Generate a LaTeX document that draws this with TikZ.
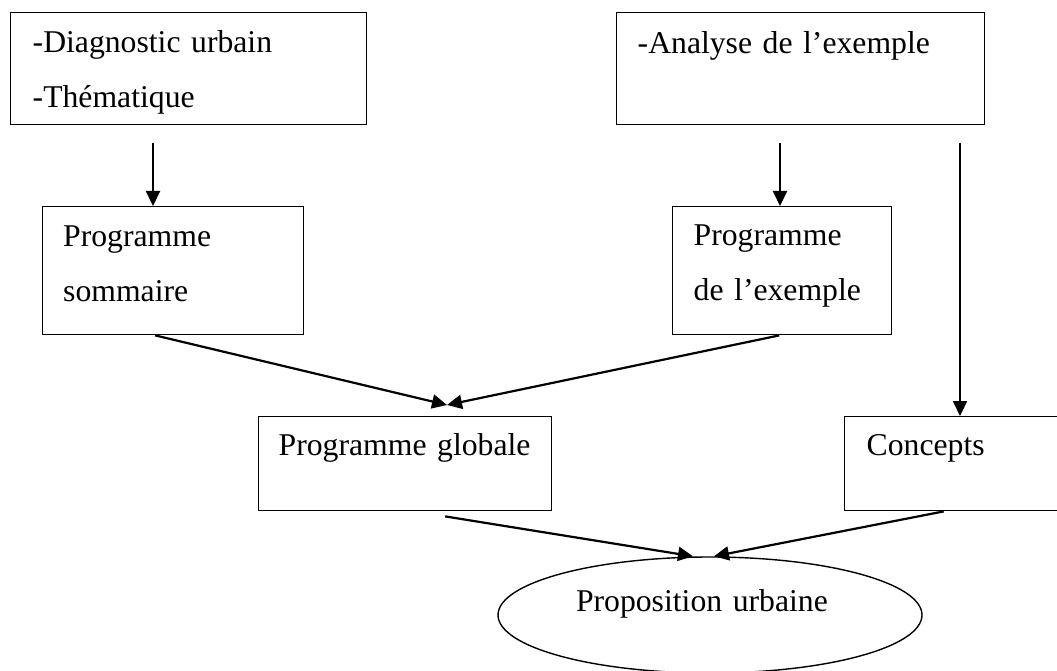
\documentclass[tikz,border=0pt]{standalone}
\usepackage{fontspec}
\setmainfont{Liberation Serif}
\usetikzlibrary{shapes.geometric,arrows.meta,positioning}

\begin{document}
\begin{tikzpicture}[x=1pt,y=-1pt,font=\fontsize{31.7}{55}\selectfont]
\tikzset{box/.style={rectangle,draw,line width=1.4pt,anchor=north west,align=left,inner ysep=0pt},
fleche/.style={line width=2.2pt,-{Triangle[length=15pt,width=14pt]}}}
\useasboundingbox (0,0) rectangle (1057,671);

\node[box,inner xsep=22pt,text width=312pt,text height=40pt,text depth=72pt] (diag) at (10,12) {-Diagnostic urbain\\-Thématique};
\node[box,inner xsep=21pt,text width=326pt,text height=41pt,text depth=71pt] (analyse) at (616,12) {-Analyse de l’exemple};

\node[box,inner xsep=20.5pt,text width=220pt,text height=40pt,text depth=88pt] (progsom) at (42,206) {Programme\\sommaire};
\node[box,inner xsep=21pt,text width=177pt,text height=39pt,text depth=89pt] (progex) at (672,206) {Programme\\de l’exemple};

\node[box,inner xsep=20pt,text width=253pt,text height=39pt,text depth=55pt] (progglob) at (258,416) {Programme globale};
\node[box,inner xsep=22pt,text width=169pt,text height=39pt,text depth=55pt] (concepts) at (844,416) {Concepts};

\node[ellipse,draw,line width=1.4pt,minimum width=424pt,minimum height=116pt,text width=268pt,align=left,text height=20pt,text depth=28pt] (prop) at (710,615) {Proposition urbaine};

\coordinate (d1) at (153,143);
\coordinate (d2) at (780,143);
\coordinate (d3) at (960,143);
\draw[fleche] (d1) -- (d1 |- progsom.north);
\draw[fleche] (d2) -- (d2 |- progex.north);
\draw[fleche] (d3) -- (d3 |- concepts.north);

\coordinate (j1) at (447,405);
\draw[fleche] ([xshift=-18pt]progsom.south) -- (j1);
\draw[fleche] ([xshift=-3pt]progex.south) -- (j1);

\draw[fleche] ([xshift=40pt,yshift=-5pt]progglob.south) -- ([xshift=-17pt]prop.north);
\draw[fleche] ([xshift=-7.5pt]concepts.south) -- ([xshift=4pt]prop.north);

\end{tikzpicture}
\end{document}
